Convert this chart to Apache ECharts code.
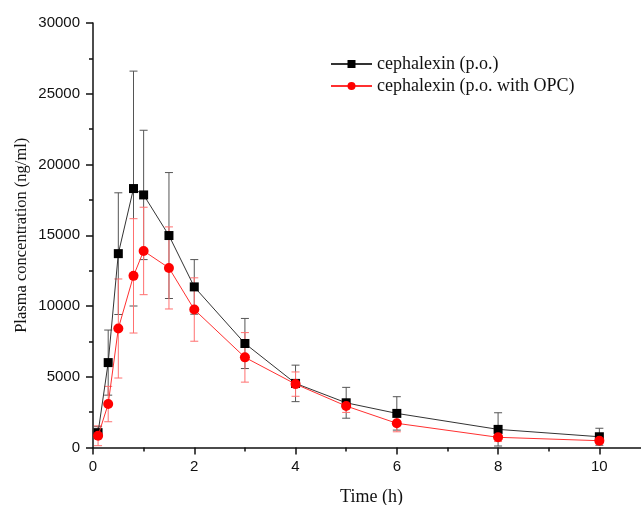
<!DOCTYPE html>
<html>
<head>
<meta charset="utf-8">
<script src="https://cdn.jsdelivr.net/npm/echarts@6/dist/echarts.min.js"></script>
<style>
  html, body { margin: 0; padding: 0; background: #fff; }
  #container { width: 641px; height: 505px; }
</style>
</head>
<body>
<div id="container"></div>
<script>
// time points (h)
var timeH = [0.1, 0.3, 0.5, 0.8, 1, 1.5, 2, 3, 4, 5, 6, 8, 10];
// cephalexin (p.o.) mean and SD, ng/ml
var poMean = [1050, 6000, 13700, 18300, 17850, 14980, 11350, 7350, 4530, 3160, 2410, 1280, 760];
var poSD   = [420, 2300, 4300, 8300, 4570, 4450, 1930, 1770, 1290, 1090, 1180, 1175, 600];
// cephalexin (p.o. with OPC) mean and SD
var opcMean = [830, 3070, 8410, 12130, 13890, 12690, 9750, 6370, 4480, 2930, 1710, 720, 480];
var opcSD   = [700, 1250, 3500, 4040, 3090, 2900, 2240, 1750, 860, 450, 600, 300, 200];

var xMajor = [0, 2, 4, 6, 8, 10];
var xMinor = [1, 3, 5, 7, 9];

window.onload = function () {
    var myChart = echarts.init(document.getElementById('container'));

    function pairs(mean) {
        var out = [];
        for (var i = 0; i < timeH.length; i++) out.push([timeH[i], mean[i]]);
        return out;
    }
    function bars(mean, sd) {
        var out = [];
        for (var i = 0; i < timeH.length; i++) out.push([timeH[i], mean[i] - sd[i], mean[i] + sd[i]]);
        return out;
    }
    function errorBar(color) {
        return function (params, api) {
            var x = api.value(0);
            var top = api.coord([x, api.value(2)]);
            var bot = api.coord([x, api.value(1)]);
            var w = 4;
            var st = { stroke: color, lineWidth: 1 };
            return {
                type: 'group',
                children: [
                    { type: 'line', shape: { x1: top[0], y1: top[1], x2: bot[0], y2: bot[1] }, style: st },
                    { type: 'line', shape: { x1: top[0] - w, y1: top[1], x2: top[0] + w, y2: top[1] }, style: st },
                    { type: 'line', shape: { x1: bot[0] - w, y1: bot[1], x2: bot[0] + w, y2: bot[1] }, style: st }
                ]
            };
        };
    }

    var numFont = 'Liberation Sans';
    var txtFont = 'Liberation Serif';

    var option = {
        animation: false,
        backgroundColor: '#fff',
        grid: { left: 93, top: 23, right: -9, bottom: 57.5, containLabel: false, outerBoundsMode: 'none' },
        legend: {
            orient: 'vertical',
            left: 325,
            top: 50,
            itemWidth: 41,
            itemHeight: 10,
            itemGap: 4,
            textStyle: { fontFamily: txtFont, fontSize: 18, color: '#111', lineHeight: 18 },
            data: ['cephalexin (p.o.)', 'cephalexin (p.o. with OPC)']
        },
        xAxis: [{
            type: 'value',
            min: 0,
            max: 11,
            interval: 2,
            name: 'Time (h)',
            nameLocation: 'middle',
            nameGap: 41,
            nameMoveOverlap: false,
            nameTextStyle: { fontFamily: txtFont, fontSize: 18, color: '#111' },
            axisLine: { show: true, onZero: false, lineStyle: { color: '#111', width: 1.5 } },
            axisTick: { show: true, inside: false, length: 7, customValues: xMajor, lineStyle: { color: '#111', width: 1.5 } },
            axisLabel: { margin: 12, customValues: xMajor, fontFamily: numFont, fontSize: 15, color: '#111' },
            splitLine: { show: false }
        }, {
            type: 'value',
            gridIndex: 0,
            position: 'bottom',
            min: 0,
            max: 11,
            interval: 1,
            axisLine: { show: false },
            axisTick: { show: true, inside: false, length: 4, customValues: xMinor, lineStyle: { color: '#111', width: 1.5 } },
            axisLabel: { show: false },
            splitLine: { show: false }
        }],
        yAxis: {
            type: 'value',
            min: 0,
            max: 30000,
            interval: 5000,
            name: 'Plasma concentration (ng/ml)',
            nameLocation: 'middle',
            nameGap: 63,
            nameMoveOverlap: false,
            nameTextStyle: { fontFamily: txtFont, fontSize: 16.5, color: '#111' },
            axisLine: { show: true, onZero: false, lineStyle: { color: '#111', width: 1.5 } },
            axisTick: { show: true, inside: false, length: 7, lineStyle: { color: '#111', width: 1.5 } },
            minorTick: { show: true, splitNumber: 2, length: 4, lineStyle: { color: '#111', width: 1.5 } },
            axisLabel: {
                margin: 13, fontFamily: numFont, fontSize: 15, color: '#111',
                formatter: function (v) { return String(v); }
            },
            splitLine: { show: false }
        },
        series: [{
            type: 'custom',
            name: 'poErr',
            renderItem: errorBar('#555'),
            data: bars(poMean, poSD),
            encode: { x: 0, y: [1, 2] },
            z: 1,
            silent: true
        }, {
            type: 'custom',
            name: 'opcErr',
            renderItem: errorBar('#ff7070'),
            data: bars(opcMean, opcSD),
            encode: { x: 0, y: [1, 2] },
            z: 1,
            silent: true
        }, {
            name: 'cephalexin (p.o.)',
            type: 'line',
            data: pairs(poMean),
            symbol: 'rect',
            symbolSize: 9,
            itemStyle: { color: '#000' },
            lineStyle: { color: '#333', width: 1 },
            z: 3
        }, {
            name: 'cephalexin (p.o. with OPC)',
            type: 'line',
            data: pairs(opcMean),
            symbol: 'circle',
            symbolSize: 10,
            itemStyle: { color: '#ff0000' },
            lineStyle: { color: '#ff3030', width: 1 },
            z: 4
        }]
    };
    myChart.setOption(option, true);
};
</script>
</body>
</html>
